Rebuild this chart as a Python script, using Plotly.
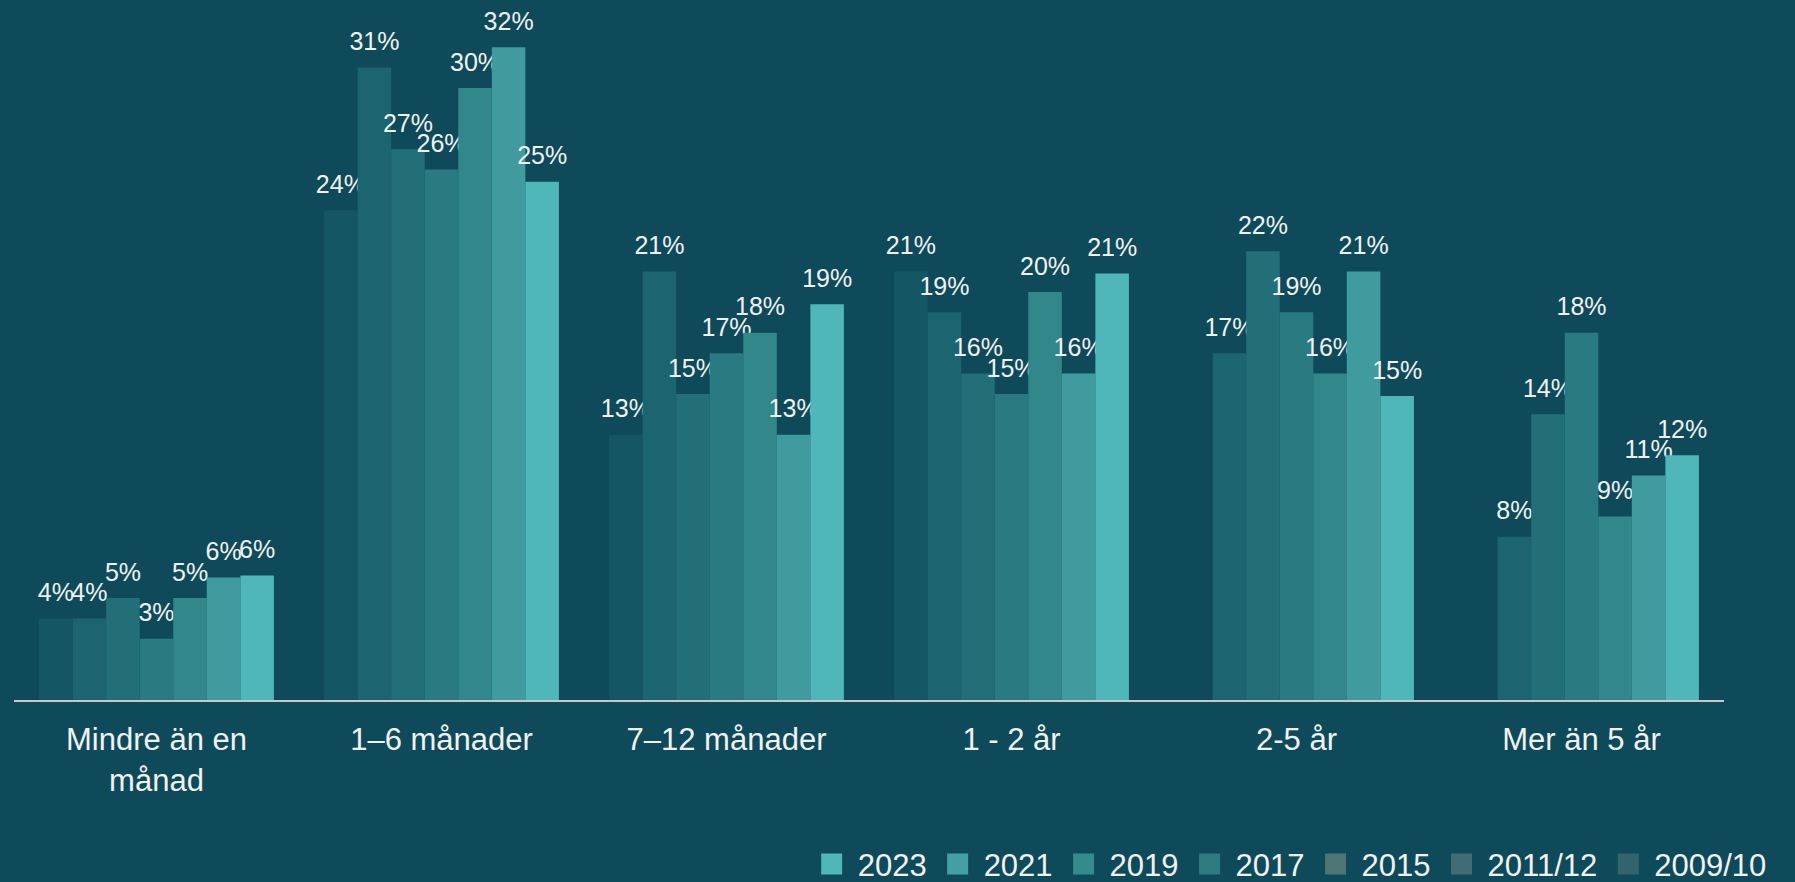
import plotly.graph_objects as go

categories = ["Mindre än en<br>månad", "1–6 månader", "7–12 månader", "1 - 2 år", "2-5 år", "Mer än 5 år"]
series_names = ["2009/10", "2011/12", "2015", "2017", "2019", "2021", "2023"]

v_2009_10 = [4, 24, 13, 21, None, None]
v_2011_12 = [4, 31, 21, 19, 17, 8]
v_2015 = [5, 27, 15, 16, 22, 14]
v_2017 = [3, 26, 17, 15, 19, 18]
v_2019 = [5, 30, 18, 20, 16, 9]
v_2021 = [6, 32, 13, 16, 21, 11]
v_2023 = [6.1, 25.4, 19.4, 20.9, 14.9, 12.0]

series_values = [v_2009_10, v_2011_12, v_2015, v_2017, v_2019, v_2021, v_2023]

bar_colors = ["#155664", "#1c646f", "#236f78", "#2a7a81", "#32878b", "#409b9e", "#4fb6ba"]
legend_colors = ["#32636f", "#416c75", "#4e7478", "#2d7b81", "#358a8e", "#43a0a3", "#4fb6ba"]

BG = "#0e4a5a"
TXT = "#f0f2f2"
FONT = "Liberation Sans, Arial, sans-serif"
YMAX = 33.33
LIFT = 0.46  # extra gap between bar top and its label (axis units)

fig = go.Figure()

for name, vals, col in zip(series_names, series_values, bar_colors):
    fig.add_trace(go.Bar(
        x=categories, y=vals, name=name, offsetgroup=name,
        marker=dict(color=col, line=dict(width=0)),
        showlegend=False, hoverinfo="skip",
    ))
    fig.add_trace(go.Bar(
        x=categories,
        y=[None if v is None else LIFT for v in vals],
        base=vals, offsetgroup=name,
        marker=dict(color="rgba(0,0,0,0)", line=dict(width=0)),
        text=[None if v is None else f"{v:.0f}%" for v in vals],
        textposition="outside", constraintext="none", cliponaxis=False,
        textfont=dict(size=25, color=TXT, family=FONT),
        showlegend=False, hoverinfo="skip",
    ))

for name, col in reversed(list(zip(series_names, legend_colors))):
    fig.add_trace(go.Scatter(
        x=[None], y=[None], mode="markers", name=name,
        marker=dict(symbol="square", size=16, color=col, line=dict(color=col, width=5)),
        hoverinfo="skip",
    ))

fig.update_layout(
    width=1795, height=882,
    paper_bgcolor=BG, plot_bgcolor=BG,
    margin=dict(l=14, r=71, t=20, b=182),
    barmode="group", bargap=0.176, bargroupgap=0,
    font=dict(family=FONT, color=TXT),
    xaxis=dict(
        type="category", showgrid=False, zeroline=False,
        showline=True, linecolor="#c8c8c8", linewidth=2,
        ticks="", tickfont=dict(size=31, color=TXT, family=FONT),
        ticklabelstandoff=11,
    ),
    yaxis=dict(range=[0, YMAX], visible=False, showgrid=False, zeroline=False),
    legend=dict(
        orientation="h", xref="container", yref="container",
        x=0.987, xanchor="right", y=0.02, yanchor="middle",
        itemwidth=42,
        font=dict(size=31, color=TXT, family=FONT),
        bgcolor="rgba(0,0,0,0)", itemclick=False, itemdoubleclick=False,
    ),
    showlegend=True,
)

post = (
    "document.documentElement.style.margin='0';"
    "document.documentElement.style.background='" + BG + "';"
    "document.body.style.margin='0';"
    "document.body.style.padding='0';"
    "document.body.style.overflow='hidden';"
    "document.body.style.background='" + BG + "';"
)

fig.write_html("out.html", post_script=post, config={"displayModeBar": False})
